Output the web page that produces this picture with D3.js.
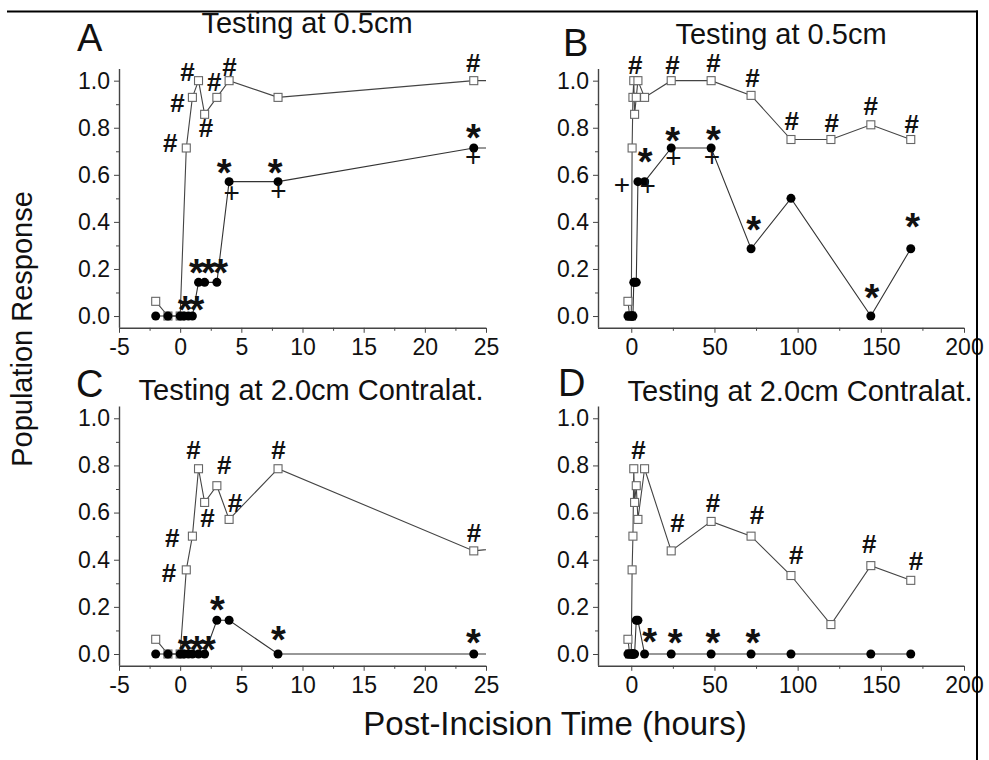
<!DOCTYPE html>
<html>
<head>
<meta charset="utf-8">
<script src="https://cdn.jsdelivr.net/npm/d3@7/dist/d3.min.js"></script>
<style>
  html, body { margin: 0; padding: 0; background: #fff; }
  svg { display: block; font-family: "Liberation Sans", Arial, sans-serif; }
</style>
</head>
<body>
<svg id="chart" width="989" height="760"></svg>
<script>
// ---------------- DATA ----------------
const timeSquares = [-2, -1, 0, 0.5, 1, 1.5, 2, 3, 4, 8, 24, 48, 72, 96, 120, 144, 168];
const timeFilled  = [-2, -1, 0, 0.33, 0.67, 1, 1.5, 2, 3, 4, 8, 24, 48, 72, 96, 144, 168];

// Testing at 0.5cm (panels A and B)
const squaresNear = [0.0625, 0, 0, 0.714, 0.929, 1.0, 0.857, 0.929, 1.0, 0.929, 1.0, 1.0, 0.9375, 0.75, 0.75, 0.8125, 0.75];
const filledNear  = [0, 0, 0, 0, 0, 0, 0.143, 0.143, 0.143, 0.571, 0.571, 0.714, 0.714, 0.286, 0.5, 0, 0.286];

// Testing at 2.0cm Contralat. (panels C and D)
const squaresContra = [0.0625, 0, 0, 0.357, 0.5, 0.786, 0.643, 0.714, 0.571, 0.786, 0.4375, 0.5625, 0.5, 0.333, 0.125, 0.375, 0.3125];
const filledContra  = [0, 0, 0, 0, 0, 0, 0, 0, 0.143, 0.143, 0, 0, 0, 0, 0, 0, 0];

// Tick labels
const yTicks = [0, 0.2, 0.4, 0.6, 0.8, 1.0];
const yMinorTicks = [0.1, 0.3, 0.5, 0.7, 0.9];
const xTicksShort = [-5, 0, 5, 10, 15, 20, 25];
const xMinorShort = [-2.5, 2.5, 7.5, 12.5, 17.5, 22.5];
const xTicksLong = [0, 50, 100, 150, 200];
const xMinorLong = [25, 75, 125, 175];

// Text labels
const panelLetters = ["A", "B", "C", "D"];
const panelTitles = ["Testing at 0.5cm", "Testing at 0.5cm", "Testing at 2.0cm Contralat.", "Testing at 2.0cm Contralat."];
const yLabel = "Population Response";
const xLabel = "Post-Incision Time (hours)";

// Significance markers [symbol, time, response]
const marksA = [
  ["#", -0.82, 0.734], ["#", -0.22, 0.904], ["#", 0.6, 1.038], ["#", 2.12, 0.798], ["#", 2.78, 0.996], ["#", 4.03, 1.06], ["#", 23.96, 1.074],
  ["*", 3.6, 0.642], ["*", 7.76, 0.645], ["*", 23.96, 0.79],
  ["*", 1.33, 0.217], ["*", 2.31, 0.217], ["*", 3.3, 0.217], ["*", 0.41, 0.061], ["*", 1.36, 0.061],
  ["+", 4.22, 0.528], ["+", 8.03, 0.535], ["+", 23.96, 0.68]
];
const marksB = [
  ["#", 2.4, 1.067], ["#", 24.8, 1.067], ["#", 49.4, 1.074], ["#", 72.9, 1.01], ["#", 96.5, 0.83], ["#", 120.5, 0.822], ["#", 144, 0.892], ["#", 168.6, 0.816],
  ["*", 24.8, 0.779], ["*", 49.4, 0.783], ["*", 8.4, 0.688], ["*", 73.5, 0.401], ["*", 144.6, 0.11], ["*", 169.2, 0.415],
  ["+", -5.6, 0.561], ["+", 9.8, 0.557], ["+", 25.4, 0.674], ["+", 48.5, 0.68]
];
const marksC = [
  ["#", -0.64, 0.492], ["#", -0.92, 0.346], ["#", 1.09, 0.866], ["#", 3.6, 0.802], ["#", 2.23, 0.576], ["#", 4.49, 0.64], ["#", 8.03, 0.866], ["#", 24.02, 0.515],
  ["*", 0.41, 0.052], ["*", 1.36, 0.052], ["*", 2.31, 0.052], ["*", 3.05, 0.222], ["*", 8.03, 0.095], ["*", 23.96, 0.081]
];
const marksD = [
  ["#", 4.4, 0.866], ["#", 27.8, 0.557], ["#", 49.1, 0.642], ["#", 75.5, 0.59], ["#", 99.1, 0.42], ["#", 143.1, 0.467], ["#", 171.2, 0.396],
  ["*", 11, 0.085], ["*", 26.4, 0.083], ["*", 49.1, 0.083], ["*", 73.1, 0.08]
];

// ---------------- LAYOUT ----------------
const svg = d3.select("#chart");
const yDomain = [-0.05, 1.05];
const rowY = [[327.8, 68.9], [665.8, 406.5]];
const colX = [[119, 486], [598, 964]];
const xDomains = [[-5, 25], [-20, 200]];

const panels = [
  { row: 0, col: 0, sq: squaresNear, fl: filledNear, marks: marksA, xt: xTicksShort, xm: xMinorShort,
    letter: [77, 51], title: [307, 33] },
  { row: 0, col: 1, sq: squaresNear, fl: filledNear, marks: marksB, xt: xTicksLong, xm: xMinorLong,
    letter: [563, 56], title: [781, 44] },
  { row: 1, col: 0, sq: squaresContra, fl: filledContra, marks: marksC, xt: xTicksShort, xm: xMinorShort,
    letter: [76, 397], title: [311, 400] },
  { row: 1, col: 1, sq: squaresContra, fl: filledContra, marks: marksD, xt: xTicksLong, xm: xMinorLong,
    letter: [558, 396], title: [800, 401] }
];

const markStyle = {
  "#": { size: 26, weight: "bold", k: 0.35 },
  "*": { size: 38, weight: "bold", k: 0.56 },
  "+": { size: 28, weight: "normal", k: 0.35 }
};

const defs = svg.append("defs");

panels.forEach((p, i) => {
  const x = d3.scaleLinear().domain(xDomains[p.col]).range(colX[p.col]);
  const y = d3.scaleLinear().domain(yDomain).range(rowY[p.row]);
  const g = svg.append("g");

  const clipId = "clip" + i;
  defs.append("clipPath").attr("id", clipId).append("rect")
    .attr("x", x.range()[0]).attr("y", 0)
    .attr("width", x.range()[1] - x.range()[0]).attr("height", 760);

  // axes
  const yAxis = d3.axisLeft(y).tickValues(yTicks).tickSize(5).tickPadding(4).tickFormat(d3.format(".1f"));
  const yMinor = d3.axisLeft(y).tickValues(yMinorTicks).tickSize(3).tickFormat("");
  const xAxis = d3.axisBottom(x).tickValues(p.xt).tickSize(5).tickPadding(6).tickFormat(d => String(d));
  const xMinor = d3.axisBottom(x).tickValues(p.xm).tickSize(3).tickFormat("");

  const gy = g.append("g").attr("transform", `translate(${x.range()[0]},0)`).call(yAxis);
  g.append("g").attr("transform", `translate(${x.range()[0]},0)`).call(yMinor).select(".domain").remove();
  const gx = g.append("g").attr("transform", `translate(0,${y.range()[0]})`).call(xAxis);
  g.append("g").attr("transform", `translate(0,${y.range()[0]})`).call(xMinor).select(".domain").remove();

  [gy, gx].forEach(a => {
    a.select(".domain").attr("stroke", "#444").attr("stroke-width", 1.4);
    a.selectAll(".tick text").attr("font-size", 23).attr("fill", "#111")
      .attr("font-family", '"Liberation Sans", Arial, sans-serif');
  });
  gy.selectAll(".domain").attr("d", `M0.5,${y.range()[1]}V${y.range()[0]}`);
  gx.selectAll(".domain").attr("d", `M${x.range()[0]},0.5H${x.range()[1]}`);
  g.selectAll(".tick line").attr("stroke", "#444");

  // series
  const plot = g.append("g").attr("clip-path", `url(#${clipId})`);
  const line = d3.line().x(d => x(d[0])).y(d => y(d[1]));
  const sqData = timeSquares.map((t, j) => [t, p.sq[j]]);
  const flData = timeFilled.map((t, j) => [t, p.fl[j]]);

  plot.append("path").datum(sqData).attr("d", line)
    .attr("fill", "none").attr("stroke", "#444").attr("stroke-width", 1.1);
  plot.selectAll(".sq").data(sqData).join("rect").attr("class", "sq")
    .attr("x", d => x(d[0]) - 4).attr("y", d => y(d[1]) - 4)
    .attr("width", 8).attr("height", 8)
    .attr("fill", "#fff").attr("stroke", "#666").attr("stroke-width", 1.1);

  plot.append("path").datum(flData).attr("d", line)
    .attr("fill", "none").attr("stroke", "#333").attr("stroke-width", 1.1);
  plot.selectAll(".fl").data(flData).join("circle").attr("class", "fl")
    .attr("cx", d => x(d[0])).attr("cy", d => y(d[1])).attr("r", 4.5)
    .attr("fill", "#000");

  // significance marks
  g.selectAll(".mk").data(p.marks).join("text").attr("class", "mk")
    .attr("x", d => x(d[1]))
    .attr("y", d => y(d[2]) + markStyle[d[0]].k * markStyle[d[0]].size)
    .attr("text-anchor", "middle")
    .attr("font-size", d => markStyle[d[0]].size)
    .attr("font-weight", d => markStyle[d[0]].weight)
    .attr("fill", "#111")
    .text(d => d[0]);

  // letter & title
  svg.append("text").attr("x", p.letter[0]).attr("y", p.letter[1])
    .attr("font-size", 38).attr("fill", "#111").text(panelLetters[i]);
  svg.append("text").attr("x", p.title[0]).attr("y", p.title[1])
    .attr("text-anchor", "middle").attr("font-size", 29).attr("fill", "#111").text(panelTitles[i]);
});

// axis titles
svg.append("text").attr("transform", "translate(32,329) rotate(-90)")
  .attr("text-anchor", "middle").attr("font-size", 29).attr("fill", "#111").text(yLabel);
svg.append("text").attr("x", 555).attr("y", 735)
  .attr("text-anchor", "middle").attr("font-size", 33).attr("fill", "#111").text(xLabel);

// frame lines
svg.append("line").attr("x1", 7).attr("x2", 978).attr("y1", 11.5).attr("y2", 11.5)
  .attr("stroke", "#000").attr("stroke-width", 2);
svg.append("line").attr("x1", 977).attr("x2", 977).attr("y1", 10.5).attr("y2", 760)
  .attr("stroke", "#000").attr("stroke-width", 2);
</script>
</body>
</html>
